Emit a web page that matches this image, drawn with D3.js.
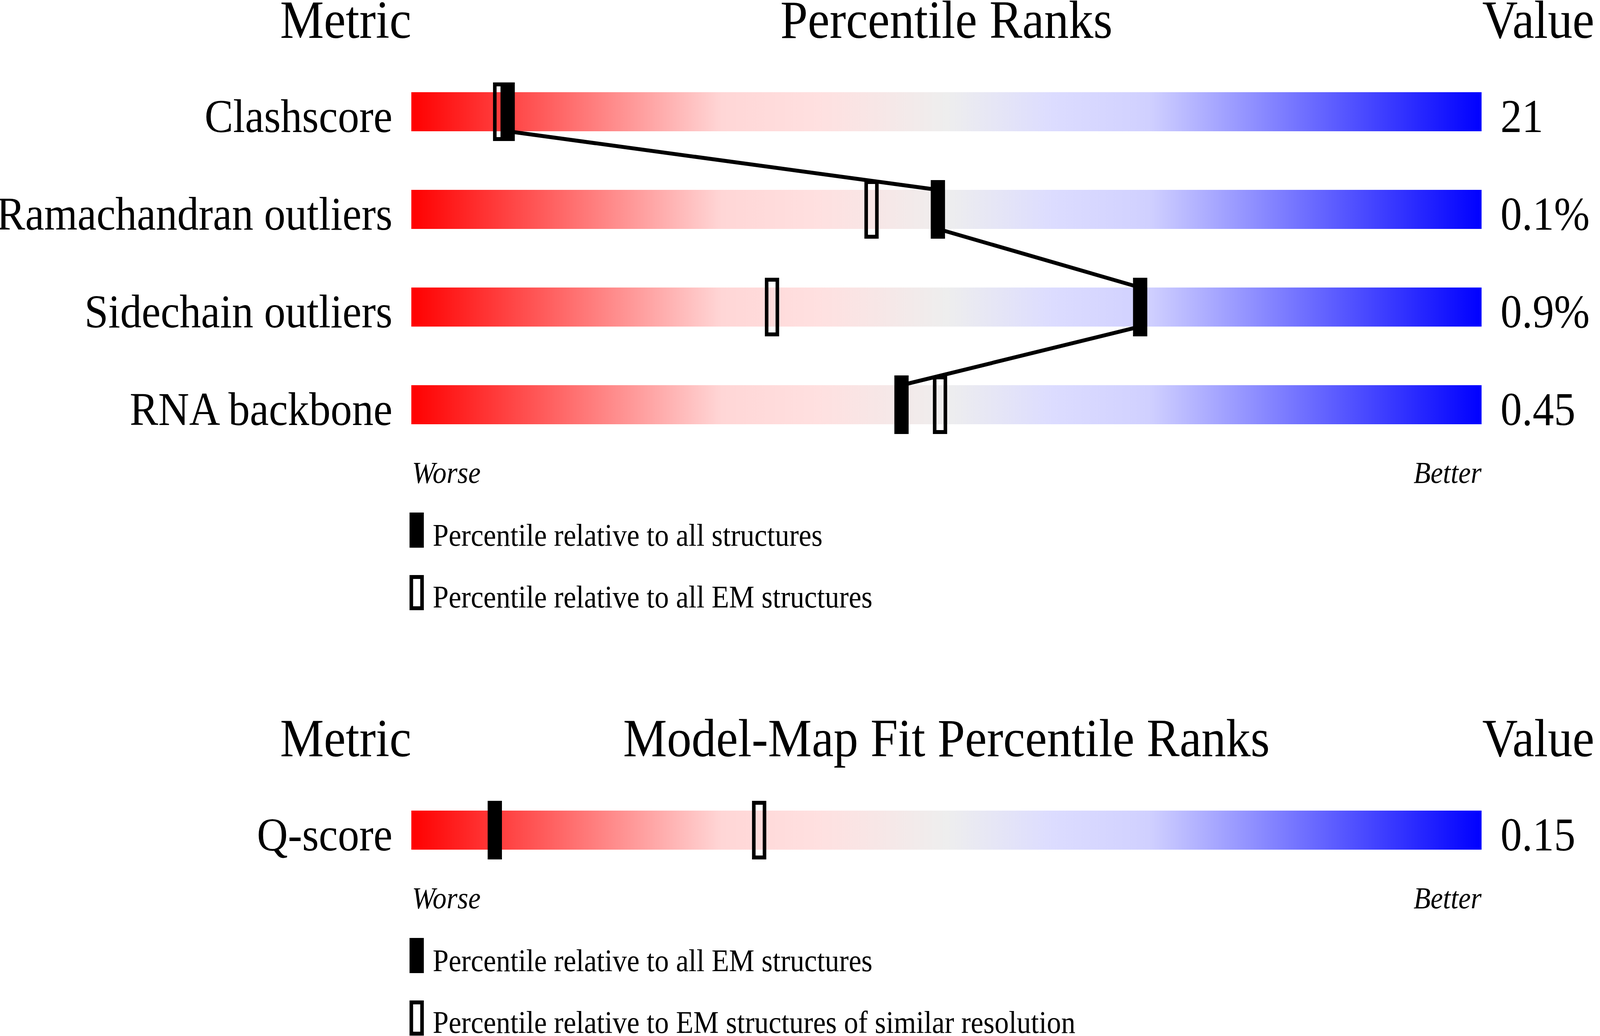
<!DOCTYPE html>
<html>
<head>
    <meta charset="utf-8">
    <script src="https://d3js.org/d3.v7.min.js"></script>
    <title>Percentile ranks</title>
    <style>
      html, body { margin: 0; padding: 0; background: white; overflow: hidden; }
      svg { display: block; }
      text { font-family: "Liberation Serif", "Times New Roman", serif; fill: black; }
    </style>
</head>
<body>
    <svg id="slider" viewBox="0 0 4485 2652" preserveAspectRatio="none"></svg>

    <script>
    // geometry quality metrics
    const metrics = ["Clashscore", "Ramachandran outliers", "Sidechain outliers", "RNA backbone"];
    const metricValues = ["21", "0.1%", "0.9%", "0.45"];
    const pctAll = [9.0, 49.2, 68.1, 45.8];
    const pctEM = [8.3, 43.0, 33.7, 49.4];
    const legend1 = ["Percentile relative to all structures", "Percentile relative to all EM structures"];

    // model-map fit
    const fitMetrics = ["Q-score"];
    const fitValues = ["0.15"];
    const fitPctAllEM = [7.8];
    const fitPctSimilar = [32.5];
    const legend2 = ["Percentile relative to all EM structures", "Percentile relative to EM structures of similar resolution"];

    const titles1 = ["Metric", "Percentile Ranks", "Value"];
    const titles2 = ["Metric", "Model-Map Fit Percentile Ranks", "Value"];

    const svg = d3.select("svg#slider")
                  .style("width", "100vw")
                  .style("height", "100vh");
    const barLeft = 1153, barRight = 4153;
    const x = d3.scaleLinear().domain([0, 100]).range([barLeft, barRight]);

    // red -> pink -> grey -> lavender -> blue
    const grad = svg.append("defs").append("linearGradient")
                    .attr("id", "rank")
                    .attr("x1", "0%").attr("x2", "100%")
                    .attr("y1", "0%").attr("y2", "0%");
    [[0, "#ff0000"], [0.29, "#ffd6d6"], [0.38, "#ffe0e0"], [0.5, "#eeeeee"],
     [0.6, "#dcdcff"], [0.69, "#d0d0ff"], [1, "#0000ff"]].forEach(s => {
        grad.append("stop").attr("offset", s[0]).attr("stop-color", s[1]);
    });

    function section(titleY, titles, names, vals, filled, open, legendText) {
      const g = svg.append("g");
      const top = titleY + 139;
      // step 250, bars 100 high
      const y = d3.scaleBand()
                  .domain(names)
                  .range([top - 75, top - 75 + names.length * 250])
                  .paddingInner(0.6)
                  .paddingOuter(0.3);
      const bh = y.bandwidth();

      g.append("text").attr("x", barLeft).attr("y", titleY)
       .attr("text-anchor", "end").attr("font-size", 138).text(titles[0]);
      g.append("text").attr("x", (barLeft + barRight) / 2).attr("y", titleY)
       .attr("text-anchor", "middle").attr("font-size", 138).text(titles[1]);
      g.append("text").attr("x", barRight + 2).attr("y", titleY)
       .attr("text-anchor", "start").attr("font-size", 138).text(titles[2]);

      g.selectAll("rect.bar").data(names).join("rect")
       .attr("class", "bar")
       .attr("x", barLeft).attr("y", d => y(d))
       .attr("width", barRight - barLeft).attr("height", bh)
       .attr("fill", "url(#rank)");

      g.selectAll("text.label").data(names).join("text")
       .attr("class", "label")
       .attr("x", barLeft - 53).attr("y", d => y(d) + bh + 2)
       .attr("text-anchor", "end").attr("font-size", 120)
       .text(d => d);

      g.selectAll("text.value").data(vals).join("text")
       .attr("class", "value")
       .attr("x", barRight + 53).attr("y", (d, i) => y(names[i]) + bh + 2)
       .attr("font-size", 120)
       .text(d => d);

      // connecting line between filled markers
      if (filled.length > 1) {
        const pts = [];
        filled.forEach((p, i) => {
          if (i > 0) pts.push([x(p), y(names[i])]);
          if (i < filled.length - 1) pts.push([x(p), y(names[i]) + bh]);
        });
        g.append("path")
         .attr("d", d3.line()(pts))
         .attr("fill", "none").attr("stroke", "black")
         .attr("stroke-width", 10).attr("stroke-linejoin", "miter");
      }

      g.selectAll("rect.open").data(open).join("rect")
       .attr("class", "open")
       .attr("x", d => x(d) - 15).attr("y", (d, i) => y(names[i]) - 20)
       .attr("width", 30).attr("height", bh + 40)
       .attr("fill", "none").attr("stroke", "black").attr("stroke-width", 10);

      g.selectAll("rect.filled").data(filled).join("rect")
       .attr("class", "filled")
       .attr("x", d => x(d) - 20).attr("y", (d, i) => y(names[i]) - 25)
       .attr("width", 40).attr("height", bh + 50)
       .attr("fill", "black");

      const last = y(names[names.length - 1]) + bh;
      g.append("text").attr("x", barLeft + 2).attr("y", last + 150)
       .attr("font-size", 78).attr("font-style", "italic").text("Worse");
      g.append("text").attr("x", barRight).attr("y", last + 150)
       .attr("text-anchor", "end")
       .attr("font-size", 78).attr("font-style", "italic").text("Better");

      // legend
      const ly = last + 150 + 76;
      g.append("rect").attr("x", 1148).attr("y", ly)
       .attr("width", 40).attr("height", 90).attr("fill", "black");
      g.append("rect").attr("x", 1153).attr("y", ly + 165)
       .attr("width", 30).attr("height", 80)
       .attr("fill", "none").attr("stroke", "black").attr("stroke-width", 10);
      legendText.forEach((t, i) => {
        g.append("text").attr("x", 1213).attr("y", ly + 85 + i * 158)
         .attr("font-size", 80).text(t);
      });
    }

    section(97, titles1, metrics, metricValues, pctAll, pctEM, legend1);
    section(1936, titles2, fitMetrics, fitValues, fitPctAllEM, fitPctSimilar, legend2);
    </script>
</body>
</html>
